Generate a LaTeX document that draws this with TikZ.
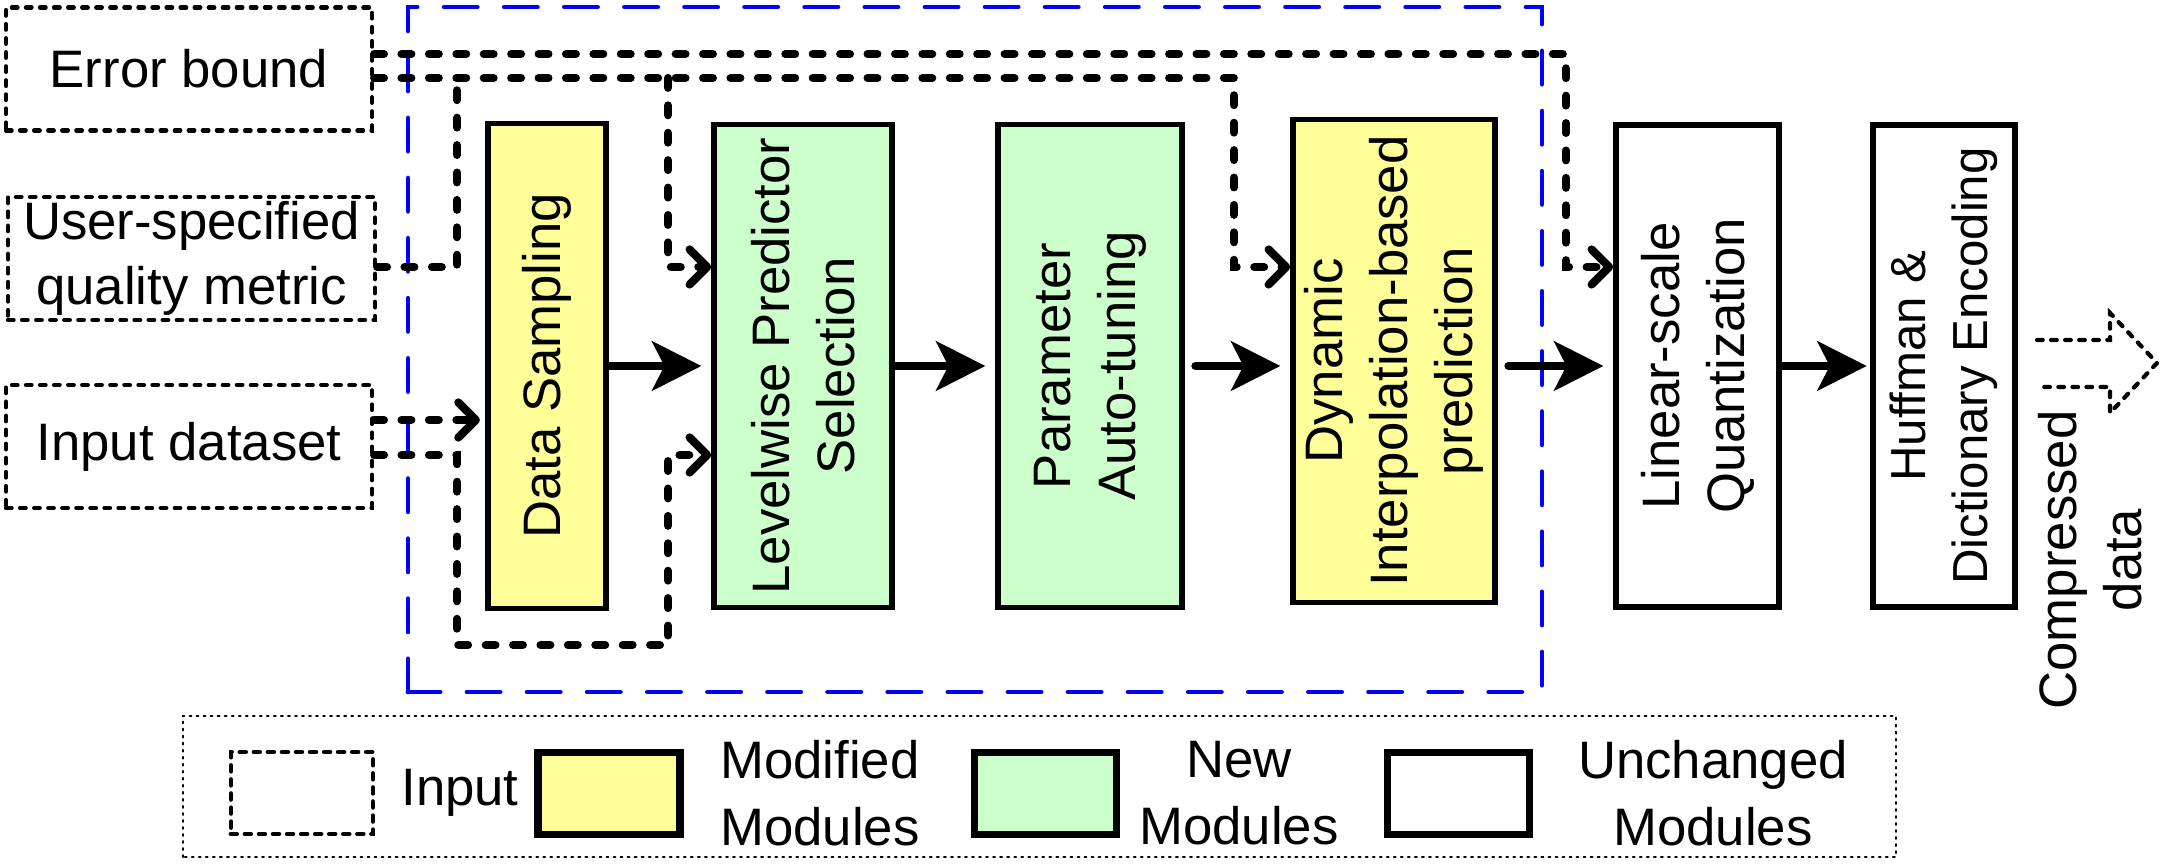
\documentclass[tikz,border=0pt]{standalone}
\usepackage{fontspec}
\setmainfont{Liberation Sans}
\usetikzlibrary{arrows.meta,positioning,calc}
\definecolor{modyellow}{RGB}{255,255,153}
\definecolor{newgreen}{RGB}{204,255,204}

\begin{document}
\begin{tikzpicture}[
    font=\fontsize{15}{18.5}\selectfont,
    inbox/.style={draw, line width=1.2pt, dash pattern=on 1.6pt off 2.4pt, line cap=round,
        align=center, inner sep=0pt, minimum width=3.66cm, minimum height=1.23cm},
    module/.style={draw, line width=1.6pt, rotate=90, align=center, inner sep=1pt, minimum width=4.83cm},
    feedline/.style={line width=2.3pt, dash pattern=on 2.8pt off 5pt, line cap=round},
    feed/.style={feedline, -{Straight Barb[length=5pt,width=10pt,round]}},
    flow/.style={line width=2.3pt, line cap=round, -{Stealth[length=14pt,width=14pt,inset=3.5pt]}, shorten >=2.8pt},
    legbox/.style={draw, line width=2pt, minimum width=1.42cm, minimum height=0.82cm},
    legtext/.style={align=center, font=\fontsize{15}{19}\selectfont}
]
    \useasboundingbox (0,0) rectangle (21.63,8.67);

    % inputs
    \node[inbox] (eb) at (1.89,7.98) {Error bound};
    \node[inbox, minimum width=3.67cm] (usq) at (1.915,6.085) {User-specified\\quality metric};
    \node[inbox] (ind) at (1.89,4.205) {Input dataset};

    % blue frame round the new stages
    \draw[blue, line width=1.4pt, dash pattern=on 9.4pt off 7.7pt, line cap=round] (4.08,1.75) rectangle (15.42,8.60);

    % modules (rotated: north is the left side, south the right side)
    \node[module, fill=modyellow, minimum width=4.85cm, minimum height=1.18cm] (ds) at (5.47,5.01) {Data Sampling};
    \node[module, fill=newgreen, minimum height=1.78cm] (lps) at (8.03,5.01) {Levelwise Predictor\\Selection};
    \node[module, fill=newgreen, minimum height=1.84cm] (pat) at (10.90,5.01) {Parameter\\Auto-tuning};
    \node[module, fill=modyellow, minimum height=2.02cm] (dip) at (13.94,5.06) {Dynamic\\Interpolation-based\\prediction};
    \node[module, minimum width=4.82cm, minimum height=1.63cm] (lsq) at (16.975,5.01) {Linear-scale\\Quantization};
    \node[module, minimum width=4.82cm, minimum height=1.42cm, font=\fontsize{14}{17.5}\selectfont] (hde) at (19.44,5.01) {Huffman \&\\Dictionary Encoding};

    % main flow
    \draw[flow] (ds.south) -- (ds.south -| lps.north);
    \draw[flow] (lps.south) -- (lps.south -| pat.north);
    \draw[flow, shorten <=3pt] (pat.south) -- (pat.south -| dip.north);
    \draw[flow, shorten <=3pt] (dip.south |- lsq.south) -- (lsq.north);
    \draw[flow, shorten >=1pt] (lsq.south) -- (hde.north);

    % error bound and metric feeds
    \draw[feed] (eb.east |- 0,8.13) -| (15.66,6.00) -- (lsq.north |- 0,6.00);
    \draw[feed] (eb.east |- 0,7.89) -| (12.34,6.00) -- (dip.north |- 0,6.00);
    \draw[feedline] (usq.east |- 0,6.00) -| (4.57,7.89);
    \draw[feed] (6.68,7.89) |- (lps.north |- 0,6.00);

    % dataset feeds
    \draw[feed, shorten >=1.5pt] (ind.east |- 0,4.47) -- (ds.north |- 0,4.47);
    \draw[feed] (ind.east |- 0,4.12) -| (4.57,2.22) -| (6.68,4.12) -- (lps.north |- 0,4.12);

    % output
    \draw[line width=1.2pt, dash pattern=on 1.6pt off 2.4pt, line cap=round]
        (20.37,5.27) -- (21.10,5.27) -- (21.10,5.54) -- (21.57,5.04) -- (21.10,4.54) -- (21.10,4.80) -- (20.37,4.80);
    \node[rotate=90, align=center] (cd) at (20.90,3.07) {Compressed\\data};

    % legend
    \draw[line width=0.6pt, dash pattern=on 0.5pt off 1.5pt, line cap=round] (1.83,0.10) rectangle (18.96,1.51);
    \node[inbox, line width=1.4pt, minimum width=1.42cm, minimum height=0.82cm] (lin) at (3.02,0.74) {};
    \node (lint) at (4.60,0.74) {Input};
    \node[legbox, fill=modyellow] (lmod) at (6.09,0.735) {};
    \node[legtext] (lmodt) at (8.20,0.74) {Modified\\Modules};
    \node[legbox, fill=newgreen] (lnew) at (10.455,0.735) {};
    \node[legtext] (lnewt) at (12.39,0.74) {New\\Modules};
    \node[legbox] (lunc) at (14.58,0.735) {};
    \node[legtext] (lunct) at (17.13,0.74) {Unchanged\\Modules};
\end{tikzpicture}
\end{document}
